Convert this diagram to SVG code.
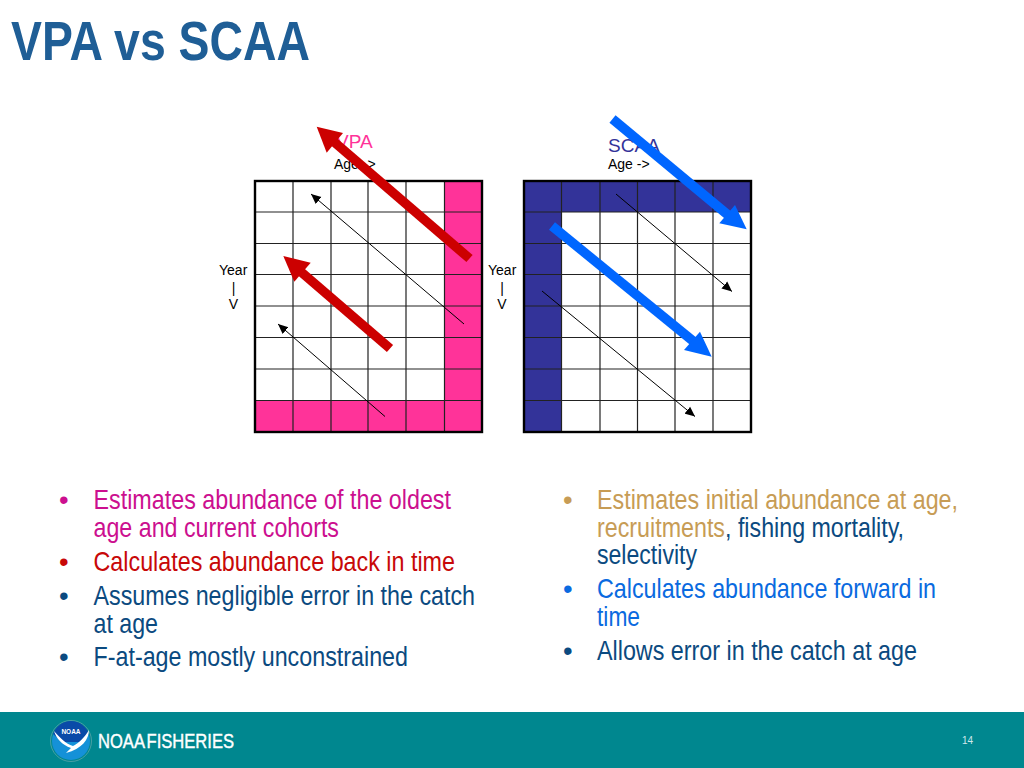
<svg xmlns="http://www.w3.org/2000/svg" width="1024" height="768" viewBox="0 0 1024 768">
<style>
text{font-family:"Liberation Sans",Arial,sans-serif}
.t{font-size:14px;fill:#000}
.b{font-size:27.500px}
.g{stroke:#222;stroke-width:1.200;fill:none}
.o{fill:none;stroke:#000;stroke-width:2.400}
.thin{stroke:#000;stroke-width:1;marker-end:url(#ta);fill:none}
.db{fill:#0b4a80}.mg{fill:#cc0f8f}.rd{fill:#c80808}.gd{fill:#c79c55}.bl{fill:#0a6ae0}
.rs{stroke:#cc0000;stroke-width:9.500;fill:none}
.bs{stroke:#0066ff;stroke-width:9.500;fill:none}
</style>
<defs>
<marker id="ta" markerUnits="userSpaceOnUse" markerWidth="12" markerHeight="10" refX="10" refY="5" orient="auto"><path d="M0 0.500L10 5L0 9.500Z" fill="#000"/></marker>
</defs>
<rect width="1024" height="768" fill="#fff"/>
<text id="title" x="11" y="60" font-size="56" font-weight="700" fill="#1f5e96" textLength="299" lengthAdjust="spacingAndGlyphs">VPA vs SCAA</text>

<g id="grid-vpa">
<rect x="255" y="181" width="227" height="251" fill="#fff"/>
<rect x="444.500" y="181" width="37.500" height="251" fill="#ff3399"/>
<rect x="255" y="400.500" width="227" height="31.500" fill="#ff3399"/>
<path class="g" d="M293 181V432M331 181V432M368 181V432M406 181V432M444.500 181V432M255 212H482M255 243.500H482M255 274.500H482M255 306H482M255 337.500H482M255 369H482M255 400.500H482"/>
<rect class="o" x="255" y="181" width="227" height="251"/>
</g>
<g id="grid-scaa">
<rect x="524" y="181" width="227" height="251" fill="#fff"/>
<rect x="524" y="181" width="227" height="31" fill="#333399"/>
<rect x="524" y="181" width="37.500" height="251" fill="#333399"/>
<path class="g" d="M561.500 181V432M600 181V432M637.500 181V432M675 181V432M713 181V432M524 212H751M524 243.500H751M524 274.500H751M524 306H751M524 337.500H751M524 369H751M524 400.500H751"/>
<rect class="o" x="524" y="181" width="227" height="251"/>
</g>

<g id="labels-vpa">
<text x="336" y="148" font-size="19" fill="#ff3399">VPA</text>
<text class="t" x="334" y="169">Age -&gt;</text>
<text class="t" x="219" y="275">Year</text>
<text class="t" x="233.500" y="293" text-anchor="middle">|</text>
<text class="t" x="233.500" y="309" text-anchor="middle">V</text>
</g>
<g id="labels-scaa">
<text x="608" y="152" font-size="19" fill="#333399">SCAA</text>
<text class="t" x="608" y="169">Age -&gt;</text>
<text class="t" x="488" y="275">Year</text>
<text class="t" x="502" y="293" text-anchor="middle">|</text>
<text class="t" x="502" y="309" text-anchor="middle">V</text>
</g>

<g id="connectors">
<path class="thin" d="M464 324L311 194"/>
<path class="thin" d="M385 416.500L278 324"/>
<path class="thin" d="M616 194L732 291.500"/>
<path class="thin" d="M542 291L695 416.500"/>
<path class="rs" d="M469.500 258.500L333 141"/>
<path fill="#cc0000" d="M316.700 126.700L343 133L326.700 152.700Z"/>
<path class="rs" d="M390 348.500L300 271"/>
<path fill="#cc0000" d="M283.300 256L310.700 262.700L294.300 281.700Z"/>
<path class="bs" d="M612.500 119L728 215"/>
<path fill="#0066ff" d="M746.700 229.300L735 205L719.300 223.300Z"/>
<path class="bs" d="M552 226L693 341"/>
<path fill="#0066ff" d="M711.700 356.700L700 331.700L684 350Z"/>
</g>

<g id="list-left">
<text class="b mg" x="59" y="508.500">•</text><text class="b mg" x="93.500" y="508.500" textLength="357.500" lengthAdjust="spacingAndGlyphs">Estimates abundance of the oldest</text>
<text class="b mg" x="93.500" y="536.500" textLength="245.500" lengthAdjust="spacingAndGlyphs">age and current cohorts</text>
<text class="b rd" x="59" y="570.500">•</text><text class="b rd" x="93.500" y="570.500" textLength="361.500" lengthAdjust="spacingAndGlyphs">Calculates abundance back in time</text>
<text class="b db" x="59" y="604.500">•</text><text class="b db" x="93.500" y="604.500" textLength="381.500" lengthAdjust="spacingAndGlyphs">Assumes negligible error in the catch</text>
<text class="b db" x="93.500" y="632.500" textLength="64.500" lengthAdjust="spacingAndGlyphs">at age</text>
<text class="b db" x="59" y="665.500">•</text><text class="b db" x="93.500" y="665.500" textLength="314.500" lengthAdjust="spacingAndGlyphs">F-at-age mostly unconstrained</text>
</g>
<g id="list-right">
<text class="b gd" x="563" y="508.500">•</text><text class="b gd" x="597" y="508.500" textLength="361" lengthAdjust="spacingAndGlyphs">Estimates initial abundance at age,</text>
<text class="b gd" x="597" y="536.500" textLength="128" lengthAdjust="spacingAndGlyphs">recruitments</text>
<text class="b db" x="725" y="536.500" textLength="179" lengthAdjust="spacingAndGlyphs">, fishing mortality,</text>
<text class="b db" x="597" y="563.500" textLength="100" lengthAdjust="spacingAndGlyphs">selectivity</text>
<text class="b bl" x="563" y="597.500">•</text><text class="b bl" x="597" y="597.500" textLength="339" lengthAdjust="spacingAndGlyphs">Calculates abundance forward in</text>
<text class="b bl" x="597" y="625.500" textLength="43" lengthAdjust="spacingAndGlyphs">time</text>
<text class="b db" x="563" y="659.500">•</text><text class="b db" x="597" y="659.500" textLength="320" lengthAdjust="spacingAndGlyphs">Allows error in the catch at age</text>
</g>

<g id="footer">
<rect y="712" width="1024" height="56" fill="#00878f"/>
<circle cx="71" cy="741" r="20.500" fill="none" stroke="#5aa5a8" stroke-width="0.800"/>
<circle cx="71" cy="741" r="19" fill="#1591d8"/>
<path d="M53 734A19 19 0 0 1 89 734L80 742L62 742Z" fill="#0a4aa8"/>
<path d="M54 731C59 737 66 744 73 746C79 743 85 737 89 730C89 739 82 749 66 753C69 750 70 749 71 748C62 745 56 738 54 731Z" fill="#fff"/>
<text x="71" y="734" font-size="6.500" font-weight="700" fill="#fff" text-anchor="middle">NOAA</text>
<text x="98" y="748" font-size="19.500" fill="#fff" stroke="#fff" stroke-width="0.400" word-spacing="-2.500" textLength="136" lengthAdjust="spacingAndGlyphs">NOAA FISHERIES</text>
<text x="967.500" y="744" font-size="10" fill="#cfe8ea" text-anchor="middle">14</text>
</g>
</svg>
